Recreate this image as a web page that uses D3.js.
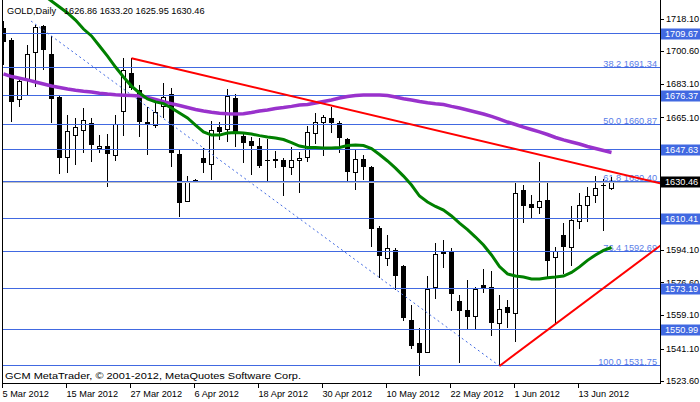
<!DOCTYPE html>
<html><head><meta charset="utf-8">
<script src="https://cdn.jsdelivr.net/npm/d3@7/dist/d3.min.js"></script>
<style>
body{margin:0;background:#fff}
svg{display:block}
text{font-family:"Liberation Sans",Arial,sans-serif;font-size:9.2px}
</style>
</head><body>
<svg id="c" width="700" height="402"></svg>
<script>
// ---------- DATA ----------
const dates = [
 "5 Mar","6 Mar","7 Mar","8 Mar","9 Mar","12 Mar","13 Mar","14 Mar","15 Mar","16 Mar",
 "19 Mar","20 Mar","21 Mar","22 Mar","23 Mar","26 Mar","27 Mar","28 Mar","29 Mar","30 Mar",
 "2 Apr","3 Apr","4 Apr","5 Apr","6 Apr","9 Apr","10 Apr","11 Apr","12 Apr","13 Apr",
 "16 Apr","17 Apr","18 Apr","19 Apr","20 Apr","23 Apr","24 Apr","25 Apr","26 Apr","27 Apr",
 "30 Apr","1 May","2 May","3 May","4 May","7 May","8 May","9 May","10 May","11 May",
 "14 May","15 May","16 May","17 May","18 May","21 May","22 May","23 May","24 May","25 May",
 "28 May","29 May","30 May","31 May","1 Jun","4 Jun","5 Jun","6 Jun","7 Jun","8 Jun",
 "11 Jun","12 Jun","13 Jun","14 Jun","15 Jun","18 Jun","19 Jun"];
const open = [1712.9,1706.6,1674.8,1685.15,1700.0,1714.1,1699.1,1676.2,1643.7,1655.6,
 1658.3,1661.9,1648.5,1649.7,1644.4,1668.5,1689.1,1679.8,1662.5,1660.5,
 1671.2,1677.5,1645.3,1619.8,1631.3,1643.1,1639.9,1659.8,1658.7,1675.7,
 1655.1,1652.4,1649.7,1642.5,1642.9,1642.2,1638.3,1641.7,1643.7,1656.5,
 1662.5,1664.6,1661.9,1653.5,1635.6,1642.8,1638.6,1605.9,1589.5,1593.9,
 1585.4,1556.4,1544.2,1538.8,1573.7,1592.4,1593.4,1566.6,1561.8,1558.5,
 1575.2,1574.3,1554.6,1563.2,1560.0,1626.1,1618.6,1616.8,1620.8,1590.0,
 1602.0,1595.4,1609.1,1617.7,1623.1,1628.9,1626.86];
const high = [1716.8,1707.5,1686.9,1703.9,1714.7,1714.7,1708.8,1676.5,1666.4,1664.6,
 1670.0,1664.7,1655.6,1656.0,1666.4,1696.8,1696.8,1682.5,1670.8,1673.5,
 1683.4,1680.6,1648.0,1633.6,1631.8,1648.5,1663.3,1662.5,1680.3,1677.6,
 1657.4,1654.7,1653.9,1653.3,1647.2,1643.5,1649.0,1646.7,1660.6,1667.6,
 1666.4,1670.8,1663.3,1653.9,1647.6,1644.9,1639.0,1606.8,1602.0,1594.9,
 1585.9,1564.4,1552.3,1580.0,1597.5,1599.3,1594.9,1569.8,1577.9,1574.3,
 1583.6,1582.7,1569.8,1567.0,1629.7,1628.8,1623.4,1641.0,1629.7,1595.4,
 1608.2,1617.6,1624.3,1627.6,1633.8,1631.9,1633.20];
const low = [1693.2,1662.8,1670.8,1676.7,1681.6,1690.5,1661.9,1634.7,1635.1,1639.6,
 1645.8,1641.3,1646.1,1627.9,1641.9,1655.1,1679.8,1654.7,1644.9,1659.2,
 1664.6,1638.6,1611.8,1619.5,1631.0,1635.1,1631.5,1653.0,1652.0,1649.0,
 1640.8,1634.2,1637.8,1631.1,1637.8,1622.9,1634.2,1624.3,1641.3,1650.6,
 1644.4,1656.9,1645.8,1631.1,1626.1,1631.5,1595.4,1579.1,1585.4,1572.5,
 1555.8,1540.8,1526.5,1538.5,1567.7,1584.1,1561.4,1533.2,1551.0,1551.0,
 1571.1,1547.8,1531.75,1551.9,1544.4,1608.6,1611.3,1613.3,1579.3,1554.9,
 1581.1,1585.4,1605.0,1609.0,1619.0,1604.3,1625.95];
const close = [1705.7,1673.5,1684.6,1698.9,1713.4,1701.2,1674.8,1643.1,1657.4,1659.6,
 1663.3,1650.3,1649.7,1645.3,1661.4,1690.0,1680.7,1662.8,1661.0,1667.8,
 1675.9,1645.8,1619.3,1630.2,1631.5,1640.8,1658.0,1657.4,1676.2,1656.9,
 1651.5,1649.7,1639.0,1642.1,1641.8,1638.3,1641.7,1643.1,1657.1,1662.5,
 1665.2,1661.9,1654.2,1635.9,1642.6,1638.6,1605.1,1590.9,1594.9,1580.2,
 1557.6,1542.6,1538.8,1573.0,1591.3,1592.6,1570.2,1561.4,1557.9,1572.5,
 1573.7,1554.9,1562.1,1560.0,1624.0,1617.7,1616.6,1620.2,1588.2,1593.0,
 1595.7,1610.0,1617.6,1622.9,1627.0,1628.6,1630.46];
const maGreen = [null,null,null,null,null,1730.8,1727.5,1724.3,1721.1,1717.3,
 1712.5,1708.8,1703.4,1698.0,1692.1,1686.8,1681.9,1678.2,1675.0,1673.4,
 1672.5,1670.1,1667.4,1664.8,1661.0,1657.3,1655.6,1655.6,1656.7,1657.0,
 1656.7,1656.2,1655.3,1654.6,1654.0,1653.2,1651.6,1649.7,1648.9,1648.9,
 1648.7,1648.7,1648.9,1650.0,1650.3,1650.0,1648.4,1645.2,1641.7,1637.9,
 1633.6,1628.8,1622.9,1619.7,1617.3,1615.4,1612.2,1608.4,1604.9,1600.9,
 1596.6,1591.3,1585.1,1581.1,1580.0,1579.5,1578.4,1578.4,1579.1,1579.5,
 1580.0,1581.9,1584.9,1588.4,1591.3,1593.7,1595.3];
const maPurple = [1688.4,1687.0,1686.1,1685.2,1684.1,1683.0,1681.9,1681.1,1680.3,1679.6,
 1679.1,1678.7,1678.1,1677.6,1677.2,1677.0,1676.8,1676.6,1675.8,1674.7,
 1673.5,1672.5,1671.5,1670.4,1669.3,1668.5,1667.8,1667.3,1667.0,1666.9,
 1667.0,1667.7,1668.5,1669.1,1669.9,1670.4,1671.0,1671.7,1672.0,1672.8,
 1673.6,1674.4,1675.5,1676.3,1676.8,1677.1,1677.1,1677.1,1676.8,1676.0,
 1675.1,1674.4,1673.6,1672.9,1672.4,1672.0,1671.0,1670.1,1669.1,1668.0,
 1666.9,1665.6,1664.2,1662.6,1661.3,1659.9,1658.6,1657.3,1655.9,1654.3,
 1653.0,1651.9,1650.8,1649.5,1648.4,1647.3,1646.3];
const fibLevels = ["38.2","50.0","61.8","76.4","100.0"];
const fibPrices = [1691.34,1660.87,1630.40,1592.69,1531.75];
const levelPrices = [1709.67,1676.37,1647.63,1610.41,1573.19,1550.99];
const lastPrice = 1630.46;
const priceTicks = [1718.10,1700.60,1683.10,1665.10,1647.60,1630.10,1612.10,1594.10,1576.60,1559.10,1541.10,1523.60];
const timeTickDates = ["5 Mar","15 Mar","27 Mar","6 Apr","18 Apr","30 Apr","10 May","22 May","1 Jun","13 Jun"];
const timeTickLabels = ["5 Mar 2012","15 Mar 2012","27 Mar 2012","6 Apr 2012","18 Apr 2012","30 Apr 2012","10 May 2012","22 May 2012","1 Jun 2012","13 Jun 2012"];
// trend lines: [date, price] anchors
const resistanceLine = [["27 Mar",1696.8],["19 Jun",1635.9]];
const supportLine = [["30 May",1531.75],["19 Jun",1576.7]];
const dashedLine = [[3.44,1716.8],["30 May",1531.75]];
const symbol = "GOLD,Daily";
const ohlcText = "1626.86 1633.20 1625.95 1630.46";
const credit = "GCM MetaTrader, \u00A9 2001-2012, MetaQuotes Software Corp.";

// ---------- CHART ----------
const W = 700, H = 402, L = 2.5, R = 660.5, T = 0, B = 383.5;
const svg = d3.select("#c");
svg.append("rect").attr("width", W).attr("height", H).attr("fill", "#fff");
const idxOf = d => typeof d === "number" ? d : dates.indexOf(d);
const x = d3.scaleLinear().domain([0, dates.length - 1]).range([3.5, 3.5 + 8 * (dates.length - 1)]);
const y = d3.scaleLinear().domain([1522.6, 1728.07]).range([383, 0]);
const blue = "#4169e1";

svg.append("clipPath").attr("id", "pc").append("rect")
  .attr("x", L).attr("y", T).attr("width", R - L).attr("height", B - T);
const g = svg.append("g").attr("clip-path", "url(#pc)");

// fib texts
g.selectAll("text.fib").data(fibPrices).join("text").attr("class", "fib")
  .attr("x", 657).attr("y", p => Math.round(y(p)) - 1.5)
  .attr("text-anchor", "end").attr("fill", "#5a7de8")
  .text((p, i) => fibLevels[i] + " " + p.toFixed(2));

// candles
const idx = d3.range(dates.length);
const cg = g.append("g").attr("shape-rendering", "crispEdges");
cg.selectAll("line").data(idx).join("line")
  .attr("x1", i => x(i)).attr("x2", i => x(i))
  .attr("y1", i => y(high[i])).attr("y2", i => y(low[i]))
  .attr("stroke", "#000");
const bull = idx.filter(i => close[i] >= open[i]);
const bear = idx.filter(i => close[i] < open[i]);
cg.selectAll("rect.bear").data(bear).join("rect").attr("class", "bear")
  .attr("x", i => x(i) - 2.5).attr("width", 5)
  .attr("y", i => y(open[i])).attr("height", i => Math.max(1, y(close[i]) - y(open[i])))
  .attr("fill", "#000");
cg.selectAll("rect.bull").data(bull).join("rect").attr("class", "bull")
  .attr("x", i => x(i) - 2).attr("width", 4)
  .attr("y", i => y(close[i])).attr("height", i => Math.max(0.5, y(open[i]) - y(close[i])))
  .attr("fill", "#fff").attr("stroke", "#000");

// horizontal lines
const hg = g.append("g").attr("shape-rendering", "crispEdges");
hg.append("line").attr("x1", L).attr("x2", R)
  .attr("y1", Math.round(y(lastPrice)) + 0.5).attr("y2", Math.round(y(lastPrice)) + 0.5)
  .attr("stroke", "#c0c0c0");
hg.selectAll("line.lv").data(levelPrices.concat(fibPrices)).join("line").attr("class", "lv")
  .attr("x1", L).attr("x2", R)
  .attr("y1", p => Math.round(y(p)) - 0.5).attr("y2", p => Math.round(y(p)) - 0.5)
  .attr("stroke", blue);

// dashed line
g.append("line")
  .attr("x1", x(idxOf(dashedLine[0][0]))).attr("y1", y(dashedLine[0][1]))
  .attr("x2", x(idxOf(dashedLine[1][0]))).attr("y2", y(dashedLine[1][1]))
  .attr("stroke", blue).attr("stroke-width", 1).attr("stroke-dasharray", "2,3");

// moving averages
const lineGen = arr => d3.line().defined(i => arr[i] != null).x(i => x(i)).y(i => y(arr[i]))(idx);
g.append("path").attr("d", lineGen(maPurple)).attr("fill", "none")
  .attr("stroke", "#9932cc").attr("stroke-width", 3.5);
g.append("path").attr("d", lineGen(maGreen)).attr("fill", "none")
  .attr("stroke", "#008000").attr("stroke-width", 3);

// red rays (extended to the right edge)
function ray(a) {
  const i0 = idxOf(a[0][0]), i1 = idxOf(a[1][0]);
  const iEnd = x.invert(R + 5);
  const pEnd = a[0][1] + (a[1][1] - a[0][1]) * (iEnd - i0) / (i1 - i0);
  return [[x(i0), y(a[0][1])], [x(iEnd), y(pEnd)]];
}
[resistanceLine, supportLine].forEach(a => {
  g.append("path").attr("d", d3.line()(ray(a))).attr("fill", "none")
    .attr("stroke", "#ff0000").attr("stroke-width", 2);
});

// frame
const fg = svg.append("g").attr("shape-rendering", "crispEdges").attr("stroke", "#000");
fg.append("line").attr("x1", L).attr("x2", L).attr("y1", 0).attr("y2", B);
fg.append("line").attr("x1", R).attr("x2", R).attr("y1", 0).attr("y2", B);
fg.append("line").attr("x1", L).attr("x2", R).attr("y1", B).attr("y2", B);

// price axis (labels hidden completely behind level boxes are not drawn)
const boxes = levelPrices.map(p => ({p, bg: blue})).concat([{p: lastPrice, bg: "#000"}]);
const visibleTicks = priceTicks.filter(t => boxes.every(b => Math.abs(y(t) - y(b.p)) > 5));
const ax = svg.append("g");
ax.selectAll("line").data(priceTicks).join("line")
  .attr("x1", R).attr("x2", R + 3).attr("y1", p => Math.round(y(p)) + 0.5).attr("y2", p => Math.round(y(p)) + 0.5)
  .attr("stroke", "#000").attr("shape-rendering", "crispEdges");
ax.selectAll("text").data(visibleTicks).join("text")
  .attr("x", 666).attr("y", p => y(p)).attr("dy", "0.35em").attr("fill", "#000")
  .text(p => p.toFixed(2));
const bx = svg.append("g");
bx.selectAll("rect").data(boxes).join("rect")
  .attr("x", 661).attr("y", d => Math.round(y(d.p)) - 5.5).attr("width", 39).attr("height", 11)
  .attr("fill", d => d.bg);
bx.selectAll("text").data(boxes).join("text")
  .attr("x", 665).attr("y", d => Math.round(y(d.p))).attr("dy", "0.35em").attr("fill", "#fff")
  .text(d => d.p.toFixed(2));

// time axis
const tx = svg.append("g");
tx.selectAll("line").data(timeTickDates).join("line")
  .attr("x1", d => x(idxOf(d)) - 1).attr("x2", d => x(idxOf(d)) - 1)
  .attr("y1", B).attr("y2", B + 4).attr("stroke", "#000").attr("shape-rendering", "crispEdges");
tx.selectAll("text").data(timeTickLabels).join("text")
  .attr("x", (d, i) => x(idxOf(timeTickDates[i])) - 1).attr("y", 397).attr("fill", "#000")
  .text(d => d);

// header & footer
svg.append("text").attr("x", 7).attr("y", 14).attr("fill", "#000").text(symbol);
svg.append("text").attr("x", 64).attr("y", 14).attr("fill", "#000").text(ohlcText);
svg.append("text").attr("x", 5).attr("y", 379).attr("fill", "#000")
  .attr("textLength", 296).attr("lengthAdjust", "spacingAndGlyphs").text(credit);
</script>
</body></html>
